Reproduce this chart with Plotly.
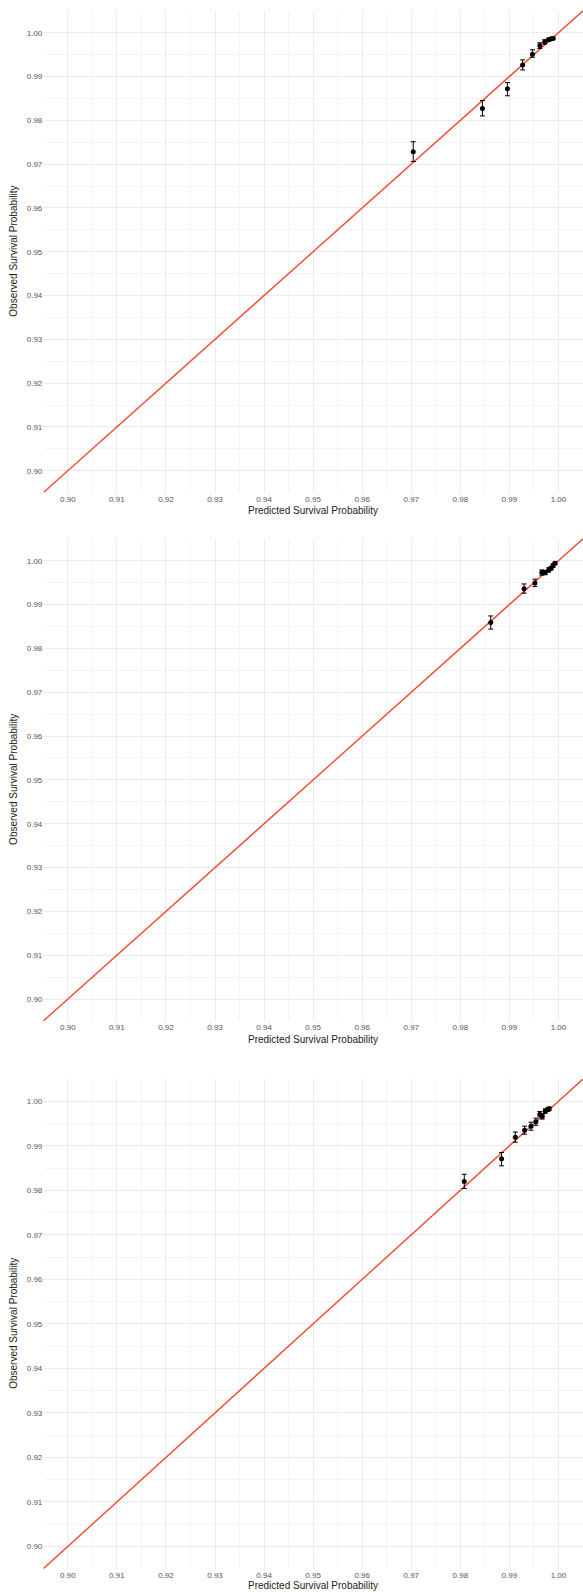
import plotly.graph_objects as go

# ---- Data ----
# Panel 1
pred_1 = [0.9704, 0.9845, 0.9896, 0.9927, 0.9947, 0.9962, 0.9972, 0.9980, 0.9985, 0.9989]
obs_1 = [0.9728, 0.9827, 0.9872, 0.9926, 0.9951, 0.9971, 0.9979, 0.9984, 0.9986, 0.9987]
lo_1 = [0.9706, 0.9810, 0.9856, 0.9915, 0.9944, 0.9964, 0.9974, 0.9980, 0.9983, 0.9985]
hi_1 = [0.9751, 0.9845, 0.9886, 0.9938, 0.9961, 0.9977, 0.9984, 0.9988, 0.9989, 0.9990]

# Panel 2
pred_2 = [0.9862, 0.9930, 0.9952, 0.9966, 0.9973, 0.9980, 0.9985, 0.9989, 0.9993]
obs_2 = [0.9859, 0.9936, 0.9949, 0.9973, 0.9973, 0.9979, 0.9983, 0.9989, 0.9994]
lo_2 = [0.9844, 0.9926, 0.9941, 0.9967, 0.9968, 0.9974, 0.9979, 0.9985, 0.9991]
hi_2 = [0.9874, 0.9947, 0.9958, 0.9979, 0.9978, 0.9984, 0.9987, 0.9993, 0.9997]

# Panel 3
pred_3 = [0.9808, 0.9884, 0.9912, 0.9931, 0.9944, 0.9954, 0.9962, 0.9967, 0.9973, 0.9978, 0.9981]
obs_3 = [0.9820, 0.9871, 0.9919, 0.9935, 0.9944, 0.9954, 0.9971, 0.9966, 0.9978, 0.9981, 0.9983]
lo_3 = [0.9804, 0.9855, 0.9908, 0.9926, 0.9935, 0.9946, 0.9965, 0.9960, 0.9973, 0.9977, 0.9979]
hi_3 = [0.9836, 0.9885, 0.9931, 0.9944, 0.9953, 0.9962, 0.9977, 0.9972, 0.9983, 0.9985, 0.9987]

panels = [(pred_1, obs_1, lo_1, hi_1), (pred_2, obs_2, lo_2, hi_2), (pred_3, obs_3, lo_3, hi_3)]

# identity reference line
diag = [0.89, 1.01]

tick_vals = [0.90, 0.91, 0.92, 0.93, 0.94, 0.95, 0.96, 0.97, 0.98, 0.99, 1.00]
tick_text = ["0.90", "0.91", "0.92", "0.93", "0.94", "0.95", "0.96", "0.97", "0.98", "0.99", "1.00"]
axis_range = [0.895, 1.005]

W, H = 583, 1592
FONT = "Liberation Sans, Arial, sans-serif"
# pixel positions of panels (top, bottom) and x-title centre
panel_px = [(10.8, 492.6), (538.8, 1021.0), (1079.0, 1568.7)]
xtitle_px = [510.5, 1039.0, 1585.5]
x_left_px = 43.3

fig = go.Figure()
layout = dict(
    width=W, height=H,
    margin=dict(l=0, r=0, t=0, b=0),
    plot_bgcolor="white", paper_bgcolor="white",
    showlegend=False,
    font=dict(family=FONT),
)
annotations = []
for i, (px, ob, lo, hi) in enumerate(panels):
    n = i + 1
    xa = "x" if n == 1 else f"x{n}"
    ya = "y" if n == 1 else f"y{n}"
    top, bot = panel_px[i]
    fig.add_trace(go.Scatter(
        x=diag, y=diag, mode="lines", xaxis=xa, yaxis=ya,
        line=dict(color="#F24A30", width=1.4), hoverinfo="skip", cliponaxis=True))
    fig.add_trace(go.Scatter(
        x=px, y=ob, mode="markers", xaxis=xa, yaxis=ya,
        marker=dict(color="black", size=5),
        error_y=dict(type="data", symmetric=False,
                     array=[h - o for h, o in zip(hi, ob)],
                     arrayminus=[o - l for o, l in zip(ob, lo)],
                     color="black", thickness=1, width=2.5)))
    common = dict(
        range=axis_range, tickvals=tick_vals, ticktext=tick_text,
        showgrid=True, gridcolor="#EBEBEB", gridwidth=1,
        minor=dict(dtick=0.005, tick0=0.895, showgrid=True, gridcolor="#F5F5F5", gridwidth=0.8),
        zeroline=False, showline=False, ticks="",
        tickfont=dict(size=8, color="#555555", family=FONT),
        automargin=False, fixedrange=True,
    )
    layout["xaxis" if n == 1 else f"xaxis{n}"] = dict(
        common, domain=[x_left_px / W, 1.0], anchor=ya)
    layout["yaxis" if n == 1 else f"yaxis{n}"] = dict(
        common, domain=[1 - bot / H, 1 - top / H], anchor=xa)
    annotations.append(dict(
        text="Predicted Survival Probability", xref="paper", yref="paper",
        x=(x_left_px + W) / 2 / W, y=1 - xtitle_px[i] / H, showarrow=False,
        xanchor="center", yanchor="middle",
        font=dict(size=10, color="#222222", family=FONT)))
    annotations.append(dict(
        text="Observed Survival Probability", xref="paper", yref="paper",
        x=14 / W, y=1 - ((top + bot) / 2) / H, showarrow=False, textangle=-90,
        xanchor="center", yanchor="middle",
        font=dict(size=10, color="#222222", family=FONT)))

layout["annotations"] = annotations
fig.update_layout(**layout)
fig.write_html("out.html",
               config={"displayModeBar": False},
               post_script="document.body.style.margin='0';document.body.style.overflow='hidden';")
